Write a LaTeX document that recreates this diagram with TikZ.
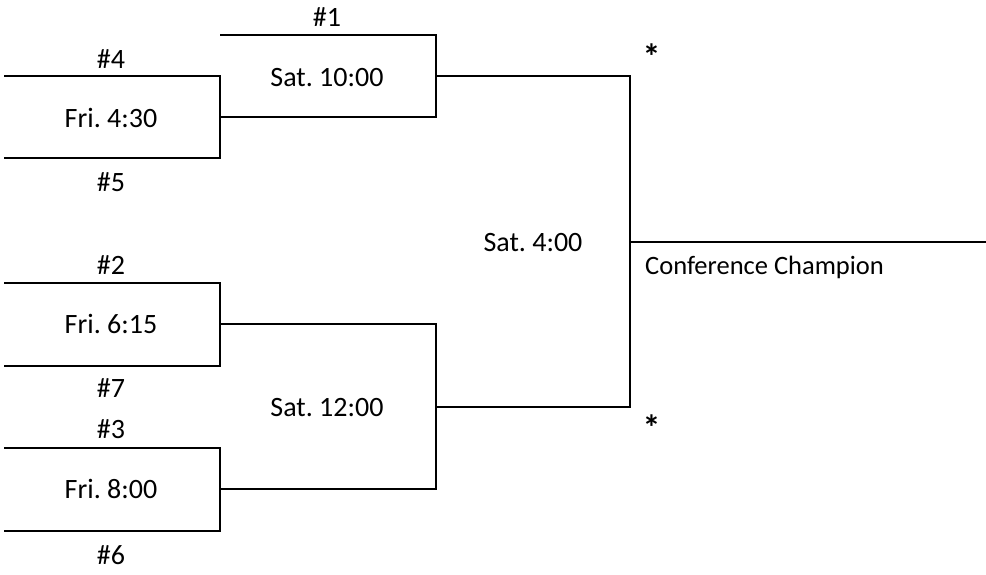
\documentclass[tikz,border=0pt]{standalone}
\usepackage{fontspec}
\setmainfont{Carlito}
\usetikzlibrary{positioning}
\frenchspacing

\begin{document}
\begin{tikzpicture}[x=1pt, y=-1pt]

% Bracket styles
\tikzstyle{game} = [inner sep=0pt, anchor=base, font=\fontsize{28}{34}\selectfont]
\tikzstyle{seed} = [game]
\tikzstyle{bye} = [inner sep=0pt, anchor=base, font=\fontsize{36}{42}\selectfont\bfseries]
\tikzstyle{note} = [inner sep=0pt, anchor=base west, font=\fontsize{26.5}{32}\selectfont]
\tikzstyle{line} = [line width=2pt]

\useasboundingbox (0,0) rectangle (986,574);

% Bracket points
\coordinate (s1) at (220,34.5);
\coordinate (s4) at (4,75.5);
\coordinate (s5) at (4,158);
\coordinate (s2) at (4,283);
\coordinate (s7) at (4,365.7);
\coordinate (s3) at (4,447.7);
\coordinate (s6) at (4,530.7);
\coordinate (j45) at (220,116.75);
\coordinate (j27) at (220,324.3);
\coordinate (j36) at (220,489.2);
\coordinate (j1) at (436,76);
\coordinate (j2) at (436,406.75);
\coordinate (jf) at (630,241.5);
\coordinate (champ) at (986,241.5);

% Bracket texts
\node (n1) [seed] at (327,26) {\#1};
\node (n4) [seed] at (111,68) {\#4};
\node (n5) [seed] at (111,191) {\#5};
\node (n2) [seed] at (111,274) {\#2};
\node (n7) [seed] at (111,397.7) {\#7};
\node (n3) [seed] at (111,438.3) {\#3};
\node (n6) [seed] at (111,564) {\#6};
\node (fri1) [game] at (111,127.7) {Fri. 4:30};
\node (fri2) [game] at (111,333.3) {Fri. 6:15};
\node (fri3) [game] at (111,498.7) {Fri. 8:00};
\node (sat1) [game] at (327,86) {Sat. 10:00};
\node (sat2) [game] at (327,416.7) {Sat. 12:00};
\node (final) [game] at (533,251) {Sat. 4:00};
\node (star1) [bye] at (651.7,69) {*};
\node (star2) [bye] at (651.7,440.5) {*};
\node (winner) [note] at (645,274.3) {Conference Champion};

% Bracket lines
\draw [line] (s4) -| (j45) |- (s5);
\draw [line] (s2) -| (j27) |- (s7);
\draw [line] (s3) -| (j36) |- (s6);
\draw [line] (s1) -| (j1) |- (j45);
\draw [line] (j27) -| (j2) |- (j36);
\draw [line] (j1) -| (jf) |- (j2);
\draw [line] (jf) -- (champ);
\end{tikzpicture}
\end{document}
